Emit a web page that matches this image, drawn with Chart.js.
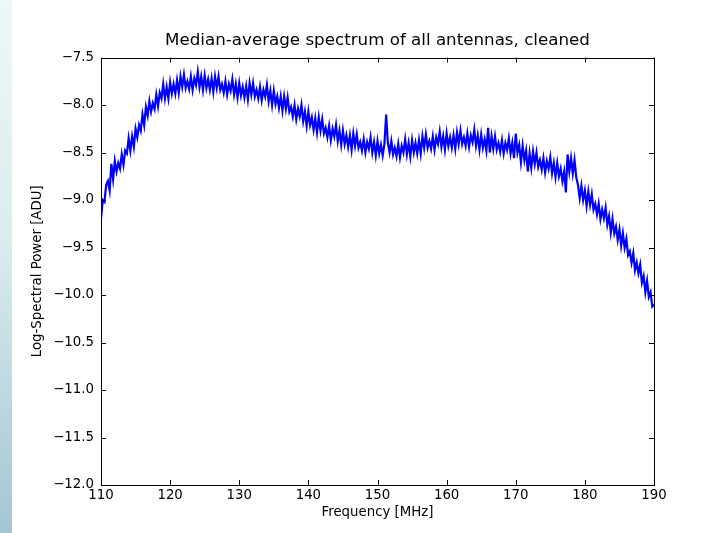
<!DOCTYPE html>
<html>
<head>
<meta charset="utf-8">
<script src="https://cdn.jsdelivr.net/npm/chart.js@4/dist/chart.umd.min.js"></script>
<style>
  html, body { margin: 0; padding: 0; background: #fff; }
  #wrap { position: relative; width: 706px; height: 533px; overflow: hidden; }
  #strip { position: absolute; left: 0; top: 0; width: 12px; height: 533px;
           background: linear-gradient(to bottom, #eef7f7 0%, #dbecef 45%, #a2c7d2 100%); }
  canvas { position: absolute; left: 0; top: 0; }
</style>
</head>
<body>
<div id="wrap">
  <div id="strip"></div>
  <canvas id="chart" width="706" height="533"></canvas>
</div>
<script>
const freqStart = 110;
const freqStep = 0.25;
const power = [
  -9.20, -9.00, -9.02, -8.84,
  -8.80, -8.90, -8.62, -8.78,
  -8.59, -8.70, -8.61, -8.67,
  -8.52, -8.63, -8.48, -8.51,
  -8.35, -8.48, -8.33, -8.44,
  -8.25, -8.34, -8.21, -8.27,
  -8.10, -8.21, -8.02, -8.11,
  -7.96, -8.07, -7.98, -8.04,
  -7.89, -8.01, -7.87, -7.93,
  -7.78, -7.93, -7.81, -7.93,
  -7.76, -7.88, -7.78, -7.88, // 120
  -7.74, -7.87, -7.70, -7.81,
  -7.68, -7.82, -7.75, -7.83,
  -7.70, -7.84, -7.72, -7.79,
  -7.65, -7.81, -7.70, -7.84,
  -7.69, -7.82, -7.73, -7.84,
  -7.72, -7.86, -7.70, -7.82,
  -7.70, -7.84, -7.78, -7.87,
  -7.75, -7.89, -7.78, -7.85,
  -7.73, -7.89, -7.78, -7.92,
  -7.77, -7.90, -7.81, -7.92, // 130
  -7.80, -7.94, -7.77, -7.89,
  -7.77, -7.91, -7.84, -7.93,
  -7.81, -7.95, -7.84, -7.91,
  -7.79, -7.96, -7.85, -8.00,
  -7.85, -7.99, -7.91, -8.03,
  -7.91, -8.06, -7.91, -8.04,
  -7.92, -8.07, -8.02, -8.12,
  -8.00, -8.15, -8.04, -8.12,
  -8.00, -8.17, -8.07, -8.22,
  -8.07, -8.21, -8.13, -8.26, // 140
  -8.14, -8.29, -8.13, -8.27,
  -8.15, -8.30, -8.24, -8.34,
  -8.22, -8.37, -8.25, -8.33,
  -8.21, -8.38, -8.27, -8.42,
  -8.27, -8.41, -8.32, -8.44,
  -8.32, -8.47, -8.30, -8.43,
  -8.31, -8.45, -8.39, -8.48,
  -8.36, -8.50, -8.39, -8.46,
  -8.34, -8.50, -8.39, -8.53,
  -8.38, -8.51, -8.42, -8.53, // 150
  -8.41, -8.10, -8.40, -8.50,
  -8.38, -8.52, -8.45, -8.54,
  -8.41, -8.55, -8.43, -8.50,
  -8.36, -8.52, -8.40, -8.54,
  -8.37, -8.50, -8.40, -8.51,
  -8.37, -8.51, -8.33, -8.45,
  -8.31, -8.45, -8.38, -8.46,
  -8.33, -8.47, -8.34, -8.41,
  -8.28, -8.44, -8.33, -8.47,
  -8.30, -8.43, -8.34, -8.45, // 160
  -8.32, -8.46, -8.29, -8.41,
  -8.27, -8.41, -8.34, -8.43,
  -8.30, -8.44, -8.32, -8.39,
  -8.26, -8.43, -8.32, -8.47,
  -8.31, -8.45, -8.36, -8.48,
  -8.24, -8.50, -8.33, -8.46,
  -8.33, -8.47, -8.40, -8.49,
  -8.37, -8.51, -8.40, -8.47,
  -8.35, -8.51, -8.40, -8.56,
  -8.30, -8.50, -8.42, -8.60, // 170
  -8.43, -8.58, -8.48, -8.70,
  -8.51, -8.66, -8.49, -8.62,
  -8.50, -8.65, -8.58, -8.68,
  -8.56, -8.71, -8.59, -8.67,
  -8.55, -8.72, -8.61, -8.76,
  -8.61, -8.75, -8.67, -8.80,
  -8.70, -8.92, -8.52, -8.70,
  -8.56, -8.72, -8.58, -8.76,
  -8.84, -8.98, -8.85, -9.00,
  -8.90, -9.06, -8.91, -9.05, // 180
  -8.94, -9.10, -9.04, -9.15,
  -9.04, -9.20, -9.10, -9.19,
  -9.08, -9.26, -9.17, -9.34,
  -9.20, -9.35, -9.28, -9.42,
  -9.31, -9.48, -9.35, -9.50,
  -9.41, -9.58, -9.54, -9.66,
  -9.56, -9.74, -9.66, -9.77,
  -9.68, -9.87, -9.80, -9.97,
  -9.85, -10.02, -9.97, -10.12,
  -10.10 // 190
];

const xTicks = [110, 120, 130, 140, 150, 160, 170, 180, 190];
const yTicks = [-12.0, -11.5, -11.0, -10.5, -10.0, -9.5, -9.0, -8.5, -8.0, -7.5];

const points = power.map((v, i) => ({ x: freqStart + i * freqStep, y: v }));
const font = 'DejaVu Sans';
const fmt = v => v.toFixed(1).replace('-', '\u2212');

// matplotlib style: black frame with inward ticks on all four sides
const frameTicks = {
  id: 'frameTicks',
  afterDatasetsDraw(chart) {
    const { ctx, chartArea: a, scales: { x, y } } = chart;
    const len = 5;
    ctx.save();
    ctx.strokeStyle = '#000';
    ctx.lineWidth = 1;
    ctx.beginPath();
    xTicks.forEach(t => {
      const px = Math.round(x.getPixelForValue(t)) + 0.5;
      ctx.moveTo(px, a.bottom); ctx.lineTo(px, a.bottom - len);
      ctx.moveTo(px, a.top); ctx.lineTo(px, a.top + len);
    });
    yTicks.forEach(t => {
      const py = Math.round(y.getPixelForValue(t)) + 0.5;
      ctx.moveTo(a.left, py); ctx.lineTo(a.left + len, py);
      ctx.moveTo(a.right, py); ctx.lineTo(a.right - len, py);
    });
    ctx.stroke();
    ctx.strokeRect(Math.round(a.left) + 0.5, Math.round(a.top) + 0.5,
                   Math.round(a.right - a.left), Math.round(a.bottom - a.top));
    ctx.restore();
  }
};

new Chart(document.getElementById('chart'), {
  type: 'line',
  data: {
    datasets: [{
      data: points,
      borderColor: '#0000ff',
      borderWidth: 2.2,
      pointRadius: 0,
      tension: 0,
      fill: false
    }]
  },
  options: {
    responsive: false,
    animation: false,
    devicePixelRatio: 1,
    layout: { padding: { left: 0, right: 52, top: 0, bottom: 0 } },
    plugins: {
      legend: { display: false },
      tooltip: { enabled: false },
      title: {
        display: true,
        fullSize: false,
        text: 'Median-average spectrum of all antennas, cleaned',
        color: '#000',
        font: { family: font, size: 16.7, weight: 'normal' },
        padding: { top: 30.5, bottom: 7 }
      }
    },
    scales: {
      x: {
        type: 'linear',
        min: 110,
        max: 190,
        afterFit(s) { s.height = 48; },
        afterBuildTicks(s) { s.ticks = xTicks.map(v => ({ value: v })); },
        grid: { display: false, drawTicks: false },
        border: { display: false },
        ticks: { color: '#000', padding: 3, maxRotation: 0, font: { family: font, size: 13.33 },
                 callback: v => String(v) },
        title: { display: true, text: 'Frequency [MHz]', color: '#000',
                 font: { family: font, size: 13.33 }, padding: { top: 0, bottom: 12 } }
      },
      y: {
        type: 'linear',
        min: -12,
        max: -7.5,
        afterFit(s) { s.width = 101; },
        afterBuildTicks(s) { s.ticks = yTicks.map(v => ({ value: v })); },
        grid: { display: false, drawTicks: false },
        border: { display: false },
        ticks: { color: '#000', padding: 7, font: { family: font, size: 13.33 },
                 callback: v => fmt(v) },
        title: { display: true, text: 'Log-Spectral Power [ADU]', color: '#000',
                 font: { family: font, size: 13.33 }, padding: { top: 29.5, bottom: 0 } }
      }
    }
  },
  plugins: [frameTicks]
});
</script>
</body>
</html>
